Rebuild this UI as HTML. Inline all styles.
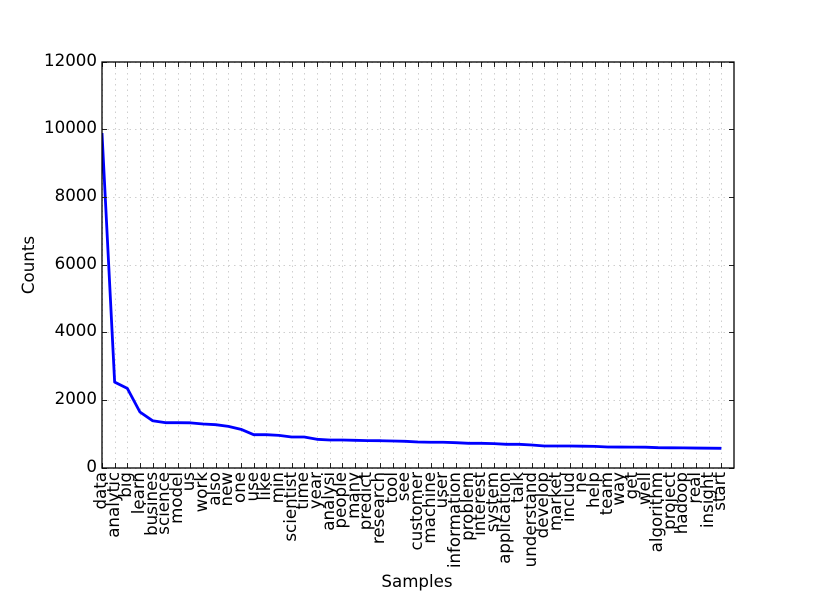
<!DOCTYPE html>
<html>
<head>
<meta charset="utf-8">
<title>Sample counts</title>
<style>
html,body{margin:0;padding:0;background:#fff;width:815px;height:615px;overflow:hidden}
svg{display:block;font-family:"DejaVu Sans",sans-serif;fill:#000}
</style>
</head>
<body>
<svg id="chart" width="815" height="615" viewBox="0 0 815 615" xmlns="http://www.w3.org/2000/svg">
<defs><clipPath id="plot-clip"><rect x="102" y="62" width="632" height="406"></rect></clipPath></defs>
<rect x="0" y="0" width="815" height="615" fill="#fff"></rect>
<g id="grid"></g>
<polyline id="series" clip-path="url(#plot-clip)" fill="none" stroke="#0000ff" stroke-width="2.8" stroke-linejoin="round"></polyline>
<g id="ticks"></g>
<rect x="102" y="62" width="632" height="406" fill="none" stroke="#000" stroke-width="1.3"></rect>
<g id="xlabels"></g>
<g id="ylabels"></g>
<text x="417" y="587" font-size="16.67" text-anchor="middle">Samples</text>
<text transform="translate(34,265) rotate(-90)" font-size="16.67" text-anchor="middle">Counts</text>
</svg>
<script>
const categories = ["data","analytic","big","learn","busines","science","model","us","work","also","new","one","use","like","min","scientist","time","year","analysi","people","many","predict","research","tool","see","customer","machine","user","information","problem","interest","system","application","talk","understand","develop","market","includ","ne","help","team","way","get","well","algorithm","project","hadoop","real","insight","start"];
const counts = [9900,2540,2355,1655,1398,1340,1340,1335,1300,1280,1230,1143,985,984,965,916,916,848,828,828,818,810,807,798,789,768,760,760,748,730,730,720,700,700,680,650,650,650,645,640,620,619,618,615,600,597,595,590,586,582];
const yTicks = [0,2000,4000,6000,8000,10000,12000];

const NS = 'http://www.w3.org/2000/svg';
const plotLeft = 102, plotRight = 734, plotTop = 62, plotBottom = 468;
const xMax = categories.length, yMax = 12000;
function xScale(i){ return plotLeft + (plotRight - plotLeft) * i / xMax; }
function yScale(v){ return plotBottom - (plotBottom - plotTop) * v / yMax; }

function makeLine(x1, y1, x2, y2){
  const l = document.createElementNS(NS, 'line');
  l.setAttribute('x1', x1);
  l.setAttribute('y1', y1);
  l.setAttribute('x2', x2);
  l.setAttribute('y2', y2);
  return l;
}

const grid = document.getElementById('grid');
const ticks = document.getElementById('ticks');
const xlabels = document.getElementById('xlabels');
const ylabels = document.getElementById('ylabels');

categories.forEach(function(name, i){
  const px = Math.round(xScale(i)) + 0.5;
  const g = makeLine(px, plotTop, px, plotBottom);
  g.setAttribute('stroke', '#cfcfcf');
  g.setAttribute('stroke-width', '1');
  g.setAttribute('stroke-dasharray', '1.5 4');
  
  
  grid.appendChild(g);

  const t1 = makeLine(px, plotBottom, px, plotBottom - 5);
  t1.setAttribute('stroke', '#222');
  
  
  ticks.appendChild(t1);

  const t2 = makeLine(px, plotTop, px, plotTop + 5);
  t2.setAttribute('stroke', '#222');
  
  
  ticks.appendChild(t2);

  const label = document.createElementNS(NS, 'text');
  label.setAttribute('transform', 'translate(' + (px + 3.5) + ',472) rotate(-90)');
  label.setAttribute('font-size', '16.67');
  label.setAttribute('text-anchor', 'end');
  
  
  label.textContent = name;
  xlabels.appendChild(label);
});

yTicks.forEach(function(v){
  const py = Math.floor(yScale(v)) + 0.5;
  const g = makeLine(plotLeft, py, plotRight, py);
  g.setAttribute('stroke', '#cfcfcf');
  g.setAttribute('stroke-width', '1');
  g.setAttribute('stroke-dasharray', '1.5 4');
  
  
  grid.appendChild(g);

  const t1 = makeLine(plotLeft, py, plotLeft + 5, py);
  t1.setAttribute('stroke', '#222');
  
  
  ticks.appendChild(t1);

  const t2 = makeLine(plotRight, py, plotRight - 5, py);
  t2.setAttribute('stroke', '#222');
  
  
  ticks.appendChild(t2);

  const label = document.createElementNS(NS, 'text');
  label.setAttribute('x', '97');
  label.setAttribute('y', py + 3.5);
  label.setAttribute('font-size', '16.67');
  label.setAttribute('text-anchor', 'end');
  
  
  label.textContent = String(v);
  ylabels.appendChild(label);
});

document.getElementById('series').setAttribute('points', counts.map(function(c, i){
  return xScale(i) + ',' + yScale(c);
}).join(' '));
</script>
</body>
</html>
